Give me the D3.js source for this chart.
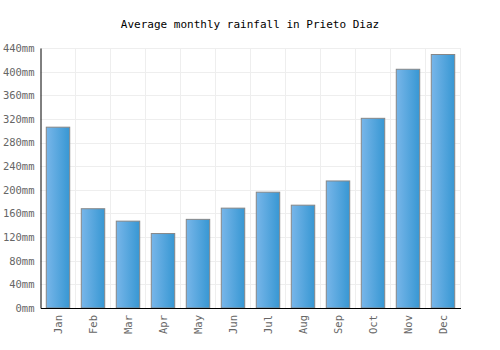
<!DOCTYPE html>
<html>
<head>
<meta charset="utf-8">
<script src="https://cdn.jsdelivr.net/npm/d3@7"></script>
<style>
	body { margin: 0; background: #fff; }
	svg text { font-family: "DejaVu Sans Mono", monospace; }
</style>
</head>
<body>
<svg id="chart" width="500" height="350"></svg>
<script>
var months = ["Jan", "Feb", "Mar", "Apr", "May", "Jun", "Jul", "Aug", "Sep", "Oct", "Nov", "Dec"];
var rainfall = [306, 168, 147, 126, 150, 169, 196, 174, 215, 321, 404, 429];
var yTicks = [0, 40, 80, 120, 160, 200, 240, 280, 320, 360, 400, 440];

var svg = d3.select("#chart"),
	margin = { top: 48, left: 40.5, right: 39.5, bottom: 42 },
	width = 500 - margin.left - margin.right,
	height = 350 - margin.top - margin.bottom;

var defs = svg.append("defs");
var grad = defs.append("linearGradient").attr("id", "barGrad")
	.attr("x1", "0%").attr("x2", "100%").attr("y1", "0%").attr("y2", "0%");
grad.append("stop").attr("offset", "0%").attr("stop-color", "#78b6e9");
grad.append("stop").attr("offset", "100%").attr("stop-color", "#3797d3");

svg.append("text")
	.attr("x", 250).attr("y", 28)
	.attr("text-anchor", "middle")
	.attr("font-size", 11)
	.attr("fill", "#000")
	.text("Average monthly rainfall in Prieto Diaz");

var g = svg.append("g").attr("transform", "translate(" + margin.left + "," + margin.top + ")");

var x = d3.scaleBand().domain(months).range([0, width]).paddingInner(0.33).paddingOuter(0.165);
var xGrid = d3.scaleBand().domain(months).range([0, width]);
var y = d3.scaleLinear().domain([0, 440]).range([height, 0]);

// grid
g.append("g").selectAll("line.h").data(yTicks).enter().append("line")
	.attr("x1", 0).attr("x2", width)
	.attr("y1", function(d) { return Math.round(y(d)) + 0.5; })
	.attr("y2", function(d) { return Math.round(y(d)) + 0.5; })
	.attr("stroke", "#eeeeee").attr("stroke-width", 1);
g.append("g").selectAll("line.v").data(months.slice(1).concat(["end"])).enter().append("line")
	.attr("x1", function(d, i) { return Math.round(xGrid.step() * (i + 1)); })
	.attr("x2", function(d, i) { return Math.round(xGrid.step() * (i + 1)); })
	.attr("y1", 0).attr("y2", height)
	.attr("stroke", "#eeeeee").attr("stroke-width", 1);

// bars
g.append("g").selectAll("rect").data(rainfall).enter().append("rect")
	.attr("x", function(d, i) { return x(months[i]); })
	.attr("y", function(d) { return y(d); })
	.attr("width", x.bandwidth())
	.attr("height", function(d) { return height - y(d); })
	.attr("fill", "url(#barGrad)")
	.attr("stroke", "#878787")
	.attr("stroke-width", 1);

// axes
var axisY = d3.axisLeft(y).tickValues(yTicks).tickSize(0).tickPadding(6)
	.tickFormat(function(d) { return d + "mm"; });
var gy = g.append("g").call(axisY);
gy.select(".domain").attr("stroke", "#000");
gy.selectAll("text").attr("fill", "#666").attr("font-size", 10.5)
	.style("font-family", "DejaVu Sans Mono, monospace");

var axisX = d3.axisBottom(x).tickSize(0).tickPadding(0);
var gx = g.append("g").attr("transform", "translate(0," + height + ")").call(axisX);
gx.select(".domain").attr("stroke", "#000");
gx.selectAll("text")
	.attr("fill", "#666").attr("font-size", 10.5)
	.style("font-family", "DejaVu Sans Mono, monospace")
	.attr("text-anchor", "end")
	.attr("dy", "0.35em")
	.attr("transform", "translate(0,7) rotate(-90)")
	.attr("x", 0).attr("y", 0);
</script>
</body>
</html>
